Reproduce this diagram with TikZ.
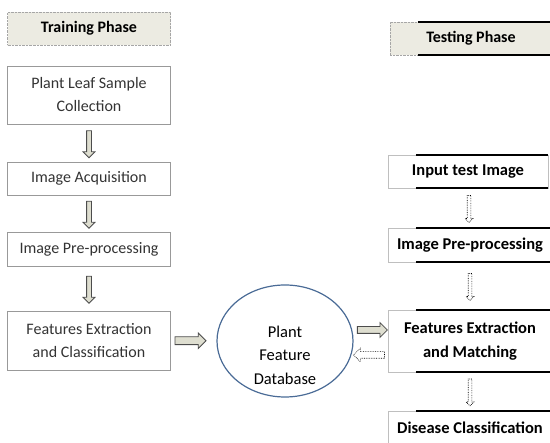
\documentclass[tikz,border=0pt]{standalone}
\usepackage{fontspec}
\setmainfont{Carlito}
\usetikzlibrary{arrows.meta, positioning, shapes.geometric, shapes.arrows, calc}
\definecolor{titlefill}{HTML}{ECEBE2}
\definecolor{arrowfill}{HTML}{DEDED0}
\definecolor{dbblue}{HTML}{4A6B96}

\begin{document}
\begin{tikzpicture}[x=1pt, y=-1pt,
    phase/.style={draw=gray!70, densely dotted, fill=titlefill, minimum height=33pt, font=\fontsize{16}{18}\selectfont\bfseries},
    stage/.style={draw=gray!80, line width=0.6pt, minimum width=163pt, align=center, font=\fontsize{16}{23}\selectfont, text=black!80},
    teststage/.style={draw=gray!50, line width=0.5pt, minimum width=164pt, align=center, font=\fontsize{16.5}{24}\selectfont\bfseries},
    blackrule/.style={line width=2pt, black},
    flow/.style={single arrow, draw=black!70, fill=arrowfill, line width=0.8pt, inner sep=0pt, inner ysep=2pt, minimum width=0pt, minimum height=27pt, single arrow head extend=3.5pt},
    dotflow/.style={single arrow, draw=black, densely dotted, fill=white, line width=0.7pt, inner sep=0pt, inner ysep=1.5pt, minimum width=0pt, minimum height=27pt, single arrow head extend=2pt},
    db/.style={ellipse, draw=dbblue, line width=1.2pt, minimum width=136pt, minimum height=112pt},
    dbtext/.style={align=center, font=\fontsize{16.5}{23.5}\selectfont}
]
    \useasboundingbox (0,0) rectangle (550,443);

    % Training phase
    \node[phase, minimum width=163pt] (train) at (89,28.5) {Training Phase};
    \node[stage, minimum height=58pt] (collect) at (89,95) {Plant Leaf Sample\\Collection};
    \node[stage, minimum height=33pt] (acq) at (89,178.5) {Image Acquisition};
    \node[stage, minimum height=34pt] (prep) at (89,249) {Image Pre-processing};
    \node[stage, minimum height=59pt] (feat) at (89,340.5) {Features Extraction\\and Classification};

    % Database
    \node[db] (db) at (285,341) {};
    \node[dbtext] (dblabel) at ([yshift=-14pt]db.center) {Plant\\Feature\\Database};

    % Testing phase
    \node[phase, minimum width=162pt] (test) at (471,38.5) {Testing Phase};
    \node[teststage, minimum height=33pt, minimum width=160pt] (input) at (468,171.5) {Input test Image};
    \node[teststage, minimum height=34pt] (tprep) at (470,245) {Image Pre-processing};
    \node[teststage, minimum height=62pt] (match) at (470,341) {Features Extraction\\and Matching};
    \node[teststage, minimum height=34pt] (disease) at (470,428) {Disease Classification};

    % Black rules
    \foreach \n in {test, input, tprep, match, disease} {
        \draw[blackrule] ([xshift=28pt]\n.north west) -- (\n.north east);
        \draw[blackrule] ([xshift=28pt]\n.south west) -- (\n.south east);
    }

    % Arrows
    \node[flow, rotate=-90] (a1) at ($(collect.south)!0.5!(acq.north)$) {};
    \node[flow, rotate=-90] (a2) at ($(acq.south)!0.5!(prep.north)$) {};
    \node[flow, rotate=-90] (a3) at ($(prep.south)!0.5!(feat.north)$) {};
    \node[flow, inner ysep=3.5pt, minimum height=31pt, single arrow head extend=4pt] (a4) at ([xshift=-5pt]$(feat.east)!0.5!(db.west)$) {};
    \node[flow, inner ysep=3pt, minimum height=30pt, single arrow head extend=4pt] (a5) at ([yshift=11pt]$(db.east)!0.5!(match.west)$) {};
    \node[dotflow, rotate=180, inner ysep=3pt, minimum height=31pt, single arrow head extend=3.5pt] (a6) at ([yshift=-14pt]$(db.east)!0.5!(match.west)$) {};
    \node[dotflow, rotate=-90] (b1) at ($(input.south)!0.5!(tprep.north)$) {};
    \node[dotflow, rotate=-90] (b2) at ($(tprep.south)!0.5!(match.north)$) {};
    \node[dotflow, rotate=-90] (b3) at ($(match.south)!0.5!(disease.north)$) {};
\end{tikzpicture}
\end{document}
